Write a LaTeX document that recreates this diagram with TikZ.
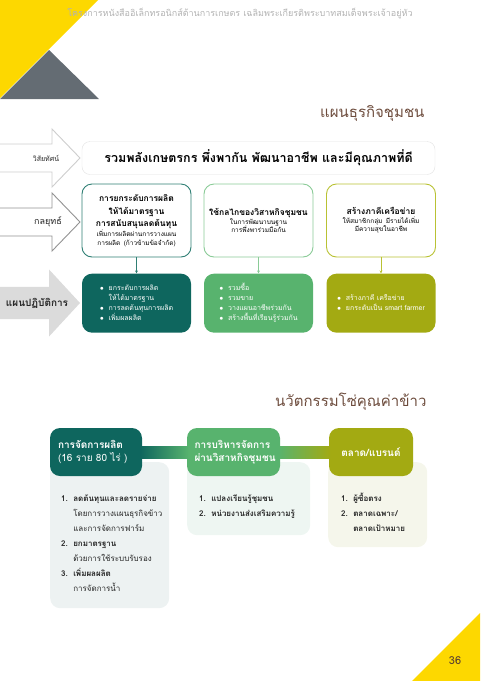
\documentclass[tikz,border=0pt]{standalone}
\usepackage{fontspec}
\setmainfont{Loma}[Script=Thai]
\usetikzlibrary{positioning, arrows.meta, calc, backgrounds}

\definecolor{amarillo}{HTML}{FDD800}
\definecolor{pizarra}{HTML}{646C73}
\definecolor{cafe}{HTML}{6D4C3D}
\definecolor{verdeosc}{HTML}{0E665E}
\definecolor{verdemed}{HTML}{58B36E}
\definecolor{oliva}{HTML}{A3AA12}
\definecolor{borde1}{HTML}{2F7F74}
\definecolor{borde2}{HTML}{8ACB97}
\definecolor{borde3}{HTML}{B9C234}
\definecolor{panelA}{HTML}{EDF2F2}
\definecolor{panelB}{HTML}{EEF6F2}
\definecolor{panelC}{HTML}{F5F6EB}
\definecolor{lineagris}{HTML}{E2E2E2}

\newcommand{\negrita}{\bfseries\fontsize{8.5}{12.5}\selectfont}
\newcommand{\chica}{\mdseries\fontsize{6.5}{8.5}\selectfont}

\begin{document}
\begin{tikzpicture}[
		x=1pt, y=-1pt,
		% Estilos de bloques
		vision/.style={draw=lineagris, fill=white, rounded corners=8pt, minimum width=353pt, minimum height=33pt, font=\bfseries\fontsize{12.5}{14}\selectfont},
		estrategia/.style={draw=#1, fill=white, line width=0.9pt, rounded corners=10pt, minimum width=109pt, minimum height=73pt, text width=105pt, align=center, inner sep=2pt},
		accion/.style={fill=#1, rounded corners=10pt, minimum width=109pt, minimum height=59pt, text=white, font=\fontsize{7}{10}\selectfont},
		cadena/.style={fill=#1, rounded corners=10pt, minimum height=48pt, text=white, font=\bfseries\fontsize{10}{13}\selectfont},
		panel/.style={fill=#1, rounded corners=10pt, anchor=north west, inner sep=0pt},
		lista/.style={anchor=north west, inner sep=0pt, font=\fontsize{8}{15}\selectfont, text=black!85},
		% Estilo de flechas y etiquetas
		flecha/.style={-{Stealth[length=3pt, width=3pt]}, line width=0.6pt, draw=#1},
		etiqueta/.style={font=\fontsize{#1}{#1}\selectfont, text=black!85},
		titulo/.style={text=cafe, font=\fontsize{15}{18}\selectfont, anchor=east},
		flechagrande/.pic={
			\path[pic actions] (-82,-14) -- (-28,-14) -- (-28,-29) -- (0,0) -- (-28,29) -- (-28,14) -- (-82,14) -- cycle;
		}
		]
		\useasboundingbox (0,0) rectangle (480,681);
		
		% --- ADORNOS DE PAGINA ---
		\fill[amarillo] (0,0) -- (98,0) -- (0,98) -- cycle;
		\fill[pizarra] (0,99) -- (49,50) -- (99,99) -- cycle;
		\fill[amarillo] (480,613) -- (480,681) -- (412,681) -- cycle;
		\node[etiqueta=9, text=black!30] (encabezado) at (240,14) {โครงการหนังสืออิเล็กทรอนิกส์ด้านการเกษตร เฉลิมพระเกียรติพระบาทสมเด็จพระเจ้าอยู่หัว};
		\node[etiqueta=11, text=cafe!80!black] (pagina) at (455,661) {36};
		
		% --- PLAN DE NEGOCIO COMUNITARIO ---
		\node[titulo] (plan) at (428,113) {แผนธุรกิจชุมชน};
		
		\pic[draw=lineagris!80!gray, fill=white, line width=0.9pt] at (80,158) {flechagrande};
		\pic[draw=gray!85, fill=white, line width=0.9pt] at (80,222) {flechagrande};
		\pic[fill=black!14, xscale=1.1, yscale=1.15] at (80,303) {flechagrande};
		\node[etiqueta=7] (lvision) at (46,158) {วิสัยทัศน์};
		\node[etiqueta=9] (lestrategia) at (48,222) {กลยุทธ์};
		\node[etiqueta=8, font=\bfseries] (laccion) at (37,303) {แผนปฏิบัติการ};
		
		\node[vision] (vis) at (258.5,158) {รวมพลังเกษตรกร พึ่งพากัน พัฒนาอาชีพ และมีคุณภาพที่ดี};
		
		\node[estrategia=borde1] (est1) at (136.5,220.5) {{\negrita การยกระดับการผลิต\\ให้ได้มาตรฐาน\\การสนับสนุนลดต้นทุน\par}{\chica เพิ่มการผลิตผ่านการวางแผน\\การผลิต (ก้าวข้ามข้อจำกัด)\par}};
		\node[estrategia=borde2] (est2) at (258.5,220.5) {{\negrita ใช้กลไกของวิสาหกิจชุมชน\par}{\chica ในการพัฒนาบนฐาน\\การพึ่งพาร่วมมือกัน\par}};
		\node[estrategia=borde3] (est3) at (381,220.5) {{\negrita สร้างภาคีเครือข่าย\par}{\chica ให้สมาชิกกลุ่ม มีรายได้เพิ่ม\\มีความสุขในอาชีพ\par}};
		
		\node[accion=verdeosc, below=16pt of est1] (acc1) {\begin{tabular}{@{}l@{\ \ }l@{}}
				$\bullet$ & ยกระดับการผลิต\\
				& ให้ได้มาตรฐาน\\
				$\bullet$ & การลดต้นทุนการผลิต\\
				$\bullet$ & เพิ่มผลผลิต
		\end{tabular}};
		\node[accion=verdemed, below=16pt of est2] (acc2) {\begin{tabular}{@{}l@{\ \ }l@{}}
				$\bullet$ & รวมซื้อ\\
				$\bullet$ & รวมขาย\\
				$\bullet$ & วางแผนอาชีพร่วมกัน\\
				$\bullet$ & สร้างพื้นที่เรียนรู้ร่วมกัน
		\end{tabular}};
		\node[accion=oliva, below=16pt of est3] (acc3) {\begin{tabular}{@{}l@{\ \ }l@{}}
				$\bullet$ & สร้างภาคี เครือข่าย\\
				$\bullet$ & ยกระดับเป็น smart farmer
		\end{tabular}};
		
		\draw[flecha=borde1] (est1) -- (acc1);
		\draw[flecha=borde2] (est2) -- (acc2);
		\draw[flecha=borde3] (est3) -- (acc3);
		
		% --- CADENA DE VALOR DEL ARROZ ---
		\node[titulo] (cadenatit) at (430,402) {นวัตกรรมโซ่คุณค่าข้าว};
		
		% Paneles claros bajo cada eslabon
		\node[panel=panelA, minimum width=119pt, minimum height=146pt] (pan1) at (50,462) {};
		\node[panel=panelB, minimum width=123pt, minimum height=73pt] (pan2) at (187,462) {};
		\node[panel=panelC, minimum width=99pt, minimum height=85pt] (pan3) at (328,462) {};
		
		\node[cadena=verdeosc, minimum width=92pt, text width=76pt, align=left] (prod) at (96,452) {การจัดการผลิต\\{\mdseries (16 ราย 80 ไร่ )}};
		\node[cadena=verdemed, minimum width=93pt, text width=78pt, align=left] (gest) at (233.5,452) {การบริหารจัดการ\\ผ่านวิสาหกิจชุมชน};
		\node[cadena=oliva, minimum width=84pt, align=center] (merc) at (371,452) {ตลาด/แบรนด์};
		
		% Barras de enlace con degradado
		\shade[left color=verdeosc, right color=verdemed] ($(prod.east)+(-2,-6)$) rectangle ($(gest.west)+(2,6)$);
		\shade[left color=verdemed, right color=oliva] ($(gest.east)+(-2,-6)$) rectangle ($(merc.west)+(2,6)$);
		
		\node[lista] (lis1) at (61,491) {\begin{tabular}{@{}l@{\ \ }l@{}}
				\textbf{1.} & \textbf{ลดต้นทุนและลดรายจ่าย}\\
				& โดยการวางแผนธุรกิจข้าว\\
				& และการจัดการฟาร์ม\\
				\textbf{2.} & \textbf{ยกมาตรฐาน}\\
				& ด้วยการใช้ระบบรับรอง\\
				\textbf{3.} & \textbf{เพิ่มผลผลิต}\\
				& การจัดการน้ำ
		\end{tabular}};
		\node[lista] (lis2) at (199,491) {\begin{tabular}{@{}l@{\ \ }l@{}}
				\textbf{1.} & \textbf{แปลงเรียนรู้ชุมชน}\\
				\textbf{2.} & \textbf{หน่วยงานส่งเสริมความรู้}
		\end{tabular}};
		\node[lista] (lis3) at (341,491) {\begin{tabular}{@{}l@{\ \ }l@{}}
				\textbf{1.} & \textbf{ผู้ซื้อตรง}\\
				\textbf{2.} & \textbf{ตลาดเฉพาะ/}\\
				& \textbf{ตลาดเป้าหมาย}
		\end{tabular}};
		
	\end{tikzpicture}
\end{document}
